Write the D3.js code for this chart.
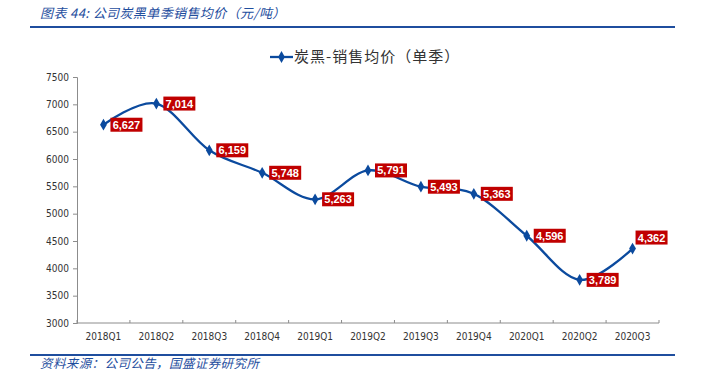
<!DOCTYPE html>
<html>
<head>
<meta charset="UTF-8">
<title>炭黑单季销售均价</title>
<script src="https://d3js.org/d3.v7.min.js"></script>
<style>
  body { margin: 0; background: #fff; }
  svg text { font-family: "Liberation Sans Narrow", "DejaVu Sans Condensed", sans-serif; }
</style>
</head>
<body>
<div id="chart"></div>
<script>
(function (d3) {
  var categories = ['2018Q1', '2018Q2', '2018Q3', '2018Q4', '2019Q1', '2019Q2',
                    '2019Q3', '2019Q4', '2020Q1', '2020Q2', '2020Q3'];
  var prices = [6627, 7014, 6159, 5748, 5263, 5791, 5493, 5363, 4596, 3789, 4362];
  var yTicks = [3000, 3500, 4000, 4500, 5000, 5500, 6000, 6500, 7000, 7500];

  var width = 715, height = 382;
  var blue = '#0B4A9E', red = '#C00000', axisColor = '#8c8c8c';
  var cjk = '"Noto Sans CJK SC", sans-serif';

  var svg = d3.select('#chart').append('svg')
    .attr('width', width).attr('height', height);

  // title and footer
  svg.append('text')
    .attr('x', 40).attr('y', 18)
    .style('font-family', cjk).style('font-size', '13px').style('font-style', 'italic')
    .style('letter-spacing', '0.4px')
    .attr('fill', '#1F4E9E')
    .text('图表 44: 公司炭黑单季销售均价（元/吨）');
  svg.append('line')
    .attr('x1', 30).attr('x2', 675).attr('y1', 27).attr('y2', 27)
    .attr('stroke', '#1F4E9E').attr('stroke-width', 2);
  svg.append('line')
    .attr('x1', 30).attr('x2', 675).attr('y1', 355).attr('y2', 355)
    .attr('stroke', '#1F4E9E').attr('stroke-width', 2);
  svg.append('text')
    .attr('x', 40).attr('y', 368)
    .style('font-family', cjk).style('font-size', '12.5px').style('font-style', 'italic')
    .style('letter-spacing', '0.4px')
    .attr('fill', '#1F4E9E')
    .text('资料来源：公司公告，国盛证券研究所');

  var x = d3.scaleBand().domain(categories).range([77, 659]);
  var y = d3.scaleLinear().domain([3000, 7500]).range([323, 77]);

  // y axis
  var yAxis = svg.append('g')
    .attr('transform', 'translate(77,0)')
    .call(d3.axisLeft(y).tickValues(yTicks).tickSize(4).tickPadding(4).tickFormat(d3.format('d')));
  yAxis.selectAll('line, path').attr('stroke', axisColor);
  yAxis.selectAll('text').attr('fill', '#333').style('font-size', '10px')
    .style('font-family', '"Liberation Sans Narrow", "DejaVu Sans Condensed", sans-serif');

  // x axis with ticks between categories
  var xAxis = svg.append('g').attr('transform', 'translate(0,323)');
  xAxis.append('line').attr('x1', 77).attr('x2', 659).attr('stroke', axisColor);
  xAxis.selectAll('.tk')
    .data(categories.map(function (c) { return x(c); }).concat([x.range()[1]]))
    .enter().append('line')
    .attr('x1', function (d) { return d; }).attr('x2', function (d) { return d; })
    .attr('y1', 0).attr('y2', -3).attr('stroke', axisColor);
  xAxis.selectAll('.lbl').data(categories).enter().append('text')
    .attr('x', function (d) { return x(d) + x.bandwidth() / 2; })
    .attr('y', 17)
    .attr('text-anchor', 'middle').attr('fill', '#333').style('font-size', '10px')
    .text(function (d) { return d; });

  var cx = function (d, i) { return x(categories[i]) + x.bandwidth() / 2; };
  var line = d3.line()
    .x(cx)
    .y(function (d) { return y(d); })
    .curve(d3.curveCardinal.tension(0));

  svg.append('path').datum(prices)
    .attr('d', line).attr('fill', 'none')
    .attr('stroke', blue).attr('stroke-width', 2.3);

  var diamond = d3.symbol().type(d3.symbolDiamond).size(40);
  svg.selectAll('.pt').data(prices).enter().append('path')
    .attr('d', diamond)
    .attr('transform', function (d, i) { return 'translate(' + cx(d, i) + ',' + y(d) + ')'; })
    .attr('fill', blue);

  // data labels
  var fmt = d3.format(',');
  var labels = svg.selectAll('.dl').data(prices).enter().append('g')
    .attr('transform', function (d, i) {
      var last = i === prices.length - 1;
      return 'translate(' + (cx(d, i) + (last ? 3 : 7)) + ',' + (y(d) - (last ? 11 : 0)) + ')';
    });
  labels.append('rect')
    .attr('x', 0).attr('y', -7).attr('width', 32).attr('height', 14)
    .attr('fill', red);
  labels.append('text')
    .attr('x', 16).attr('y', 4)
    .attr('text-anchor', 'middle').attr('fill', '#fff')
    .style('font-family', '"Liberation Sans", sans-serif')
    .style('font-size', '11px').style('font-weight', 'bold')
    .text(function (d) { return fmt(d); });

  // legend
  var lg = svg.append('g').attr('transform', 'translate(270,57)');
  lg.append('line').attr('x1', 0).attr('x2', 23).attr('stroke', blue).attr('stroke-width', 2.3);
  lg.append('path').attr('d', diamond).attr('transform', 'translate(11.5,0)').attr('fill', blue);
  lg.append('text')
    .attr('x', 24).attr('y', 5)
    .style('font-family', cjk).style('font-size', '15px').style('letter-spacing', '1px')
    .attr('fill', '#333')
    .text('炭黑-销售均价（单季）');
})(window.d3);
</script>
</body>
</html>
